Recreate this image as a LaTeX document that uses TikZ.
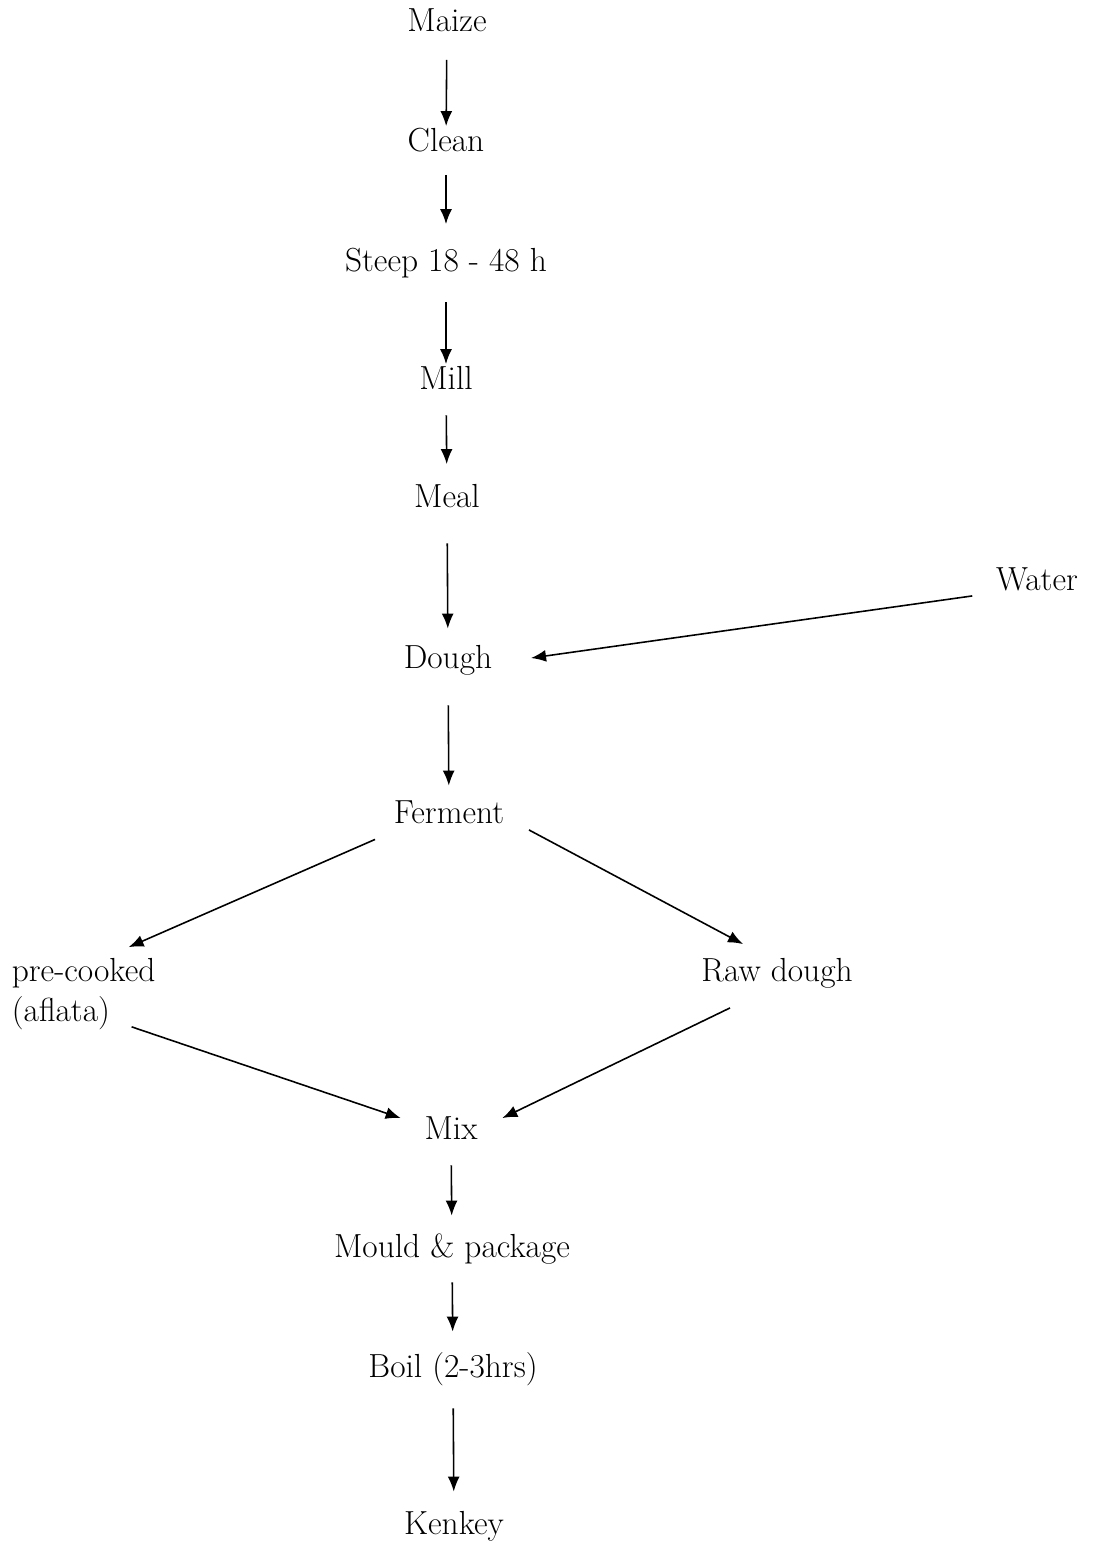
\documentclass[tikz,border=0pt]{standalone}
\usepackage{tikz}
\usetikzlibrary{arrows.meta}

\begin{document}
\begin{tikzpicture}[
        x=0.02cm, y=-0.02cm,
        font=\fontsize{19}{23}\selectfont,
        % process step (one line of text)
        stage/.style={
            inner sep=2pt,
            text height=12.5pt,
            text depth=3.5pt
        },
        % step with two lines, set flush left
        sidestage/.style={
            inner sep=2pt,
            align=left
        },
        % arrows of the flow
        flow/.style={
            -{Latex[length=0.3cm, width=0.24cm]},
            line width=0.9pt
        }
    ]
        \useasboundingbox (0,0) rectangle (1096,1546);

        % ====================
        % main column
        % ====================
        \node[stage] (maize)   at (447, 24)   {Maize};
        \node[stage] (clean)   at (446, 144)  {Clean};
        \node[stage] (steep)   at (446, 264)  {Steep 18 - 48 h};
        \node[stage] (mill)    at (446, 382)  {Mill};
        \node[stage] (meal)    at (447, 500)  {Meal};
        \node[stage] (dough)   at (448, 661)  {Dough};
        \node[stage] (ferment) at (449, 816)  {Ferment};

        % water comes in from the right
        \node[stage] (water)   at (1037, 583) {Water};

        % ====================
        % the two branches
        % ====================
        \node[sidestage, anchor=west] (precooked) at (8, 994) {pre-cooked\\(aflata)};
        \node[stage] (rawdough) at (777, 974) {Raw dough};

        \node[stage] (mix)     at (451, 1132) {Mix};
        \node[stage] (mould)   at (452, 1250) {Mould \& package};
        \node[stage] (boil)    at (453, 1370) {Boil (2-3hrs)};
        \node[stage] (kenkey)  at (454, 1527) {Kenkey};

        % ====================
        % connections
        % ====================
        \draw[flow, shorten <=0.36cm] (maize) -- (clean);
        \draw[flow, shorten <=0.26cm, shorten >=0.44cm] (clean) -- (steep);
        \draw[flow, shorten <=0.41cm] (steep) -- (mill);
        \draw[flow, shorten <=0.31cm, shorten >=0.36cm] (mill) -- (meal);
        \draw[flow, shorten <=0.51cm, shorten >=0.29cm] (meal) -- (dough);
        \draw[flow, shorten <=0.53cm, shorten >=0.25cm] (dough) -- (ferment);

        \draw[flow] ([shift={(-0.4cm,0.1cm)}]water.south west) -- ([shift={(0.7cm,0.06cm)}]dough.east);

        % split after fermenting
        \draw[flow] ([shift={(-0.3cm,-0.11cm)}]ferment.south west) -- ([shift={(0.9cm,0.14cm)}]precooked.north);
        \draw[flow] ([shift={(0.42cm,0.08cm)}]ferment.south east) -- ([shift={(-0.68cm,0.24cm)}]rawdough.north);

        % both branches meet again
        \draw[flow] ([shift={(0.96cm,0.14cm)}]precooked.south) -- ([shift={(-0.4cm,-0.08cm)}]mix.north west);
        \draw[flow] ([shift={(-0.94cm,-0.32cm)}]rawdough.south) -- ([shift={(0.42cm,-0.08cm)}]mix.north east);

        \draw[flow, shorten <=0.31cm, shorten >=0.33cm] (mix) -- (mould);
        \draw[flow, shorten <=0.29cm, shorten >=0.41cm] (mould) -- (boil);
        \draw[flow, shorten <=0.41cm, shorten >=0.35cm] (boil) -- (kenkey);

    \end{tikzpicture}
\end{document}
